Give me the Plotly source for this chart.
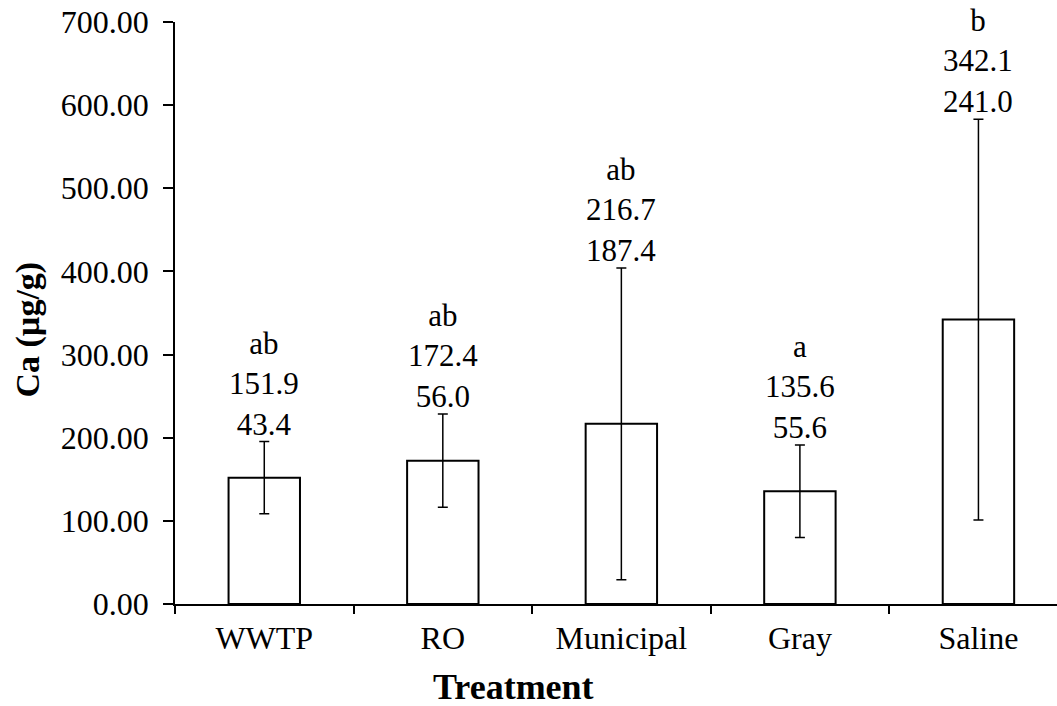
import plotly.graph_objects as go

# Calcium content by irrigation water treatment
treatments = ["WWTP", "RO", "Municipal", "Gray", "Saline"]
ca_mean = [151.9, 172.4, 216.7, 135.6, 342.1]
ca_sd = [43.4, 56.0, 187.4, 55.6, 241.0]
groups = ["ab", "ab", "ab", "a", "b"]

FONT = "Liberation Serif, Times New Roman, serif"

fig = go.Figure()
fig.add_trace(go.Bar(
    x=treatments,
    y=ca_mean,
    width=0.4,
    marker=dict(color="white", line=dict(color="black", width=2)),
    error_y=dict(type="data", array=ca_sd, visible=True,
                 color="black", thickness=1.5, width=5),
    showlegend=False,
))

# group letter, mean and SD stacked above each error bar
for t, m, s, g in zip(treatments, ca_mean, ca_sd, groups):
    fig.add_annotation(
        x=t, y=m + s, xref="x", yref="y",
        text=f"{g}<br>{m:.1f}<br>{s:.1f}",
        showarrow=False, yanchor="bottom", xanchor="center",
        yshift=-2, font=dict(family=FONT, size=31, color="black"),
    )

fig.add_annotation(
    text="<b>Ca (µg/g)</b>", xref="paper", yref="paper",
    x=-0.167, y=0.471, textangle=-90, showarrow=False,
    xanchor="center", yanchor="middle",
    font=dict(family=FONT, size=34, color="black"),
)
fig.add_annotation(
    text="<b>Treatment</b>", xref="paper", yref="paper",
    x=0.384, y=-0.142, showarrow=False,
    xanchor="center", yanchor="middle",
    font=dict(family=FONT, size=36, color="black"),
)

fig.update_layout(
    width=1057, height=706,
    margin=dict(l=175, r=0, t=22, b=102),
    paper_bgcolor="white", plot_bgcolor="white",
    font=dict(family=FONT, size=32, color="black"),
    xaxis=dict(
        range=[-0.5, 4.44], showline=True, linecolor="black", linewidth=1.5,
        ticks="outside", tickson="boundaries", ticklen=8, tickwidth=1.5,
        tickcolor="black", showgrid=False, zeroline=False,
        ticklabelstandoff=5,
    ),
    yaxis=dict(
        range=[0, 700], dtick=100, tickformat=".2f",
        showline=True, linecolor="black", linewidth=1.5,
        ticks="outside", ticklen=10, tickwidth=1.5, tickcolor="black",
        showgrid=False, zeroline=False, ticklabelstandoff=8,
    ),
)

fig.write_html("out.html")
